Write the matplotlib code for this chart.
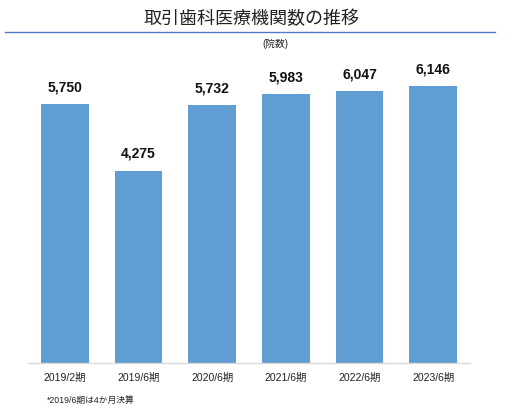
import matplotlib
matplotlib.use('Agg')
import matplotlib.pyplot as plt
from matplotlib.lines import Line2D

plt.rcParams['font.family'] = ['Liberation Sans', 'Noto Sans CJK JP', 'DejaVu Sans']

periods = ['2019/2期', '2019/6期', '2020/6期', '2021/6期', '2022/6期', '2023/6期']
clinics = [5750, 4275, 5732, 5983, 6047, 6146]

title = '取引歯科医療機関数の推移'
unit = '(院数)'
note = '*2019/6期は4か月決算'

W, H = 523, 417
fig = plt.figure(figsize=(W / 100, H / 100), dpi=100)

# axes placed in pixel terms: x 28..470, y 48..363
ax = fig.add_axes([28 / W, (H - 363) / H, (470 - 28) / W, (363 - 48) / H])
x = range(len(periods))
bars = ax.bar(x, clinics, width=0.65, color='#5F9DD3', zorder=2)
ax.set_xlim(-0.5, len(periods) - 0.5)
ax.set_ylim(0, 7000)

for b, v in zip(bars, clinics):
    ax.annotate(f'{v:,}', (b.get_x() + b.get_width() / 2, v),
                xytext=(0, 7), textcoords='offset points',
                ha='center', va='bottom', fontsize=10, fontweight='bold',
                color='#111111')

ax.set_xticks(list(x))
ax.set_xticklabels(periods, fontsize=7.5, color='#222222')
ax.tick_params(axis='x', length=0, pad=7)
ax.set_yticks([])
for side in ['top', 'right', 'left']:
    ax.spines[side].set_visible(False)
ax.spines['bottom'].set_color('#D9D9D9')
ax.spines['bottom'].set_linewidth(1.0)

# title, rule and unit
fig.text(252 / W, 1 - 19 / H, title, ha='center', va='center',
         fontsize=13, color='#222222')
fig.add_artist(Line2D([5 / W, 495 / W], [1 - 32 / H, 1 - 32 / H],
                      color='#4F7BC8', linewidth=1.0))
fig.text(275 / W, 1 - 44 / H, unit, ha='center', va='center',
         fontsize=7, color='#222222')
fig.text(47 / W, 1 - 400 / H, note, ha='left', va='center',
         fontsize=6.3, color='#222222')

fig.savefig('out.png', dpi=100)
